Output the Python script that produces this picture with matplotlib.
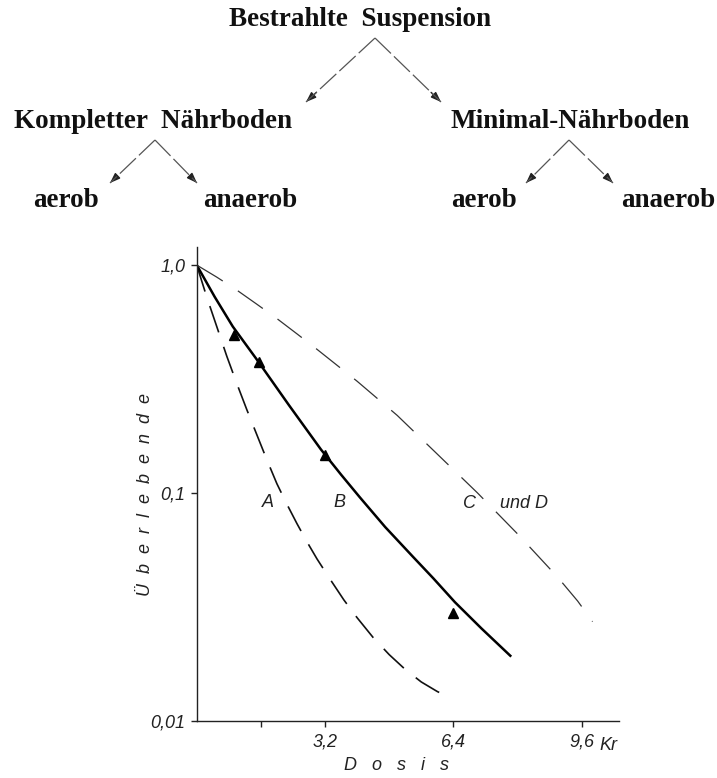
import numpy as np
import matplotlib
matplotlib.use("Agg")
import matplotlib.pyplot as plt
from matplotlib.lines import Line2D

plt.rcParams['lines.scale_dashes'] = False

dose_a = [0, 0.25, 0.5, 0.75, 1.0, 1.25, 1.5, 1.75, 2.0, 2.25, 2.5, 2.75, 3.0,
          3.33, 3.67, 4.0, 4.4, 4.8, 5.2, 5.6, 6.0, 6.33]
log_a = [0, -0.14, -0.27, -0.40, -0.52, -0.635, -0.745, -0.855, -0.96, -1.05, -1.135, -1.215, -1.29,
         -1.38, -1.47, -1.548, -1.635, -1.71, -1.775, -1.83, -1.872, -1.90]

dose_b = [0, 0.45, 0.9, 1.5, 2.3, 3.1, 3.6, 4.07, 4.7, 5.39, 5.9, 6.44, 7.1, 7.82]
log_b = [0, -0.14, -0.27, -0.415, -0.615, -0.81, -0.92, -1.02, -1.15, -1.28, -1.375, -1.48, -1.595, -1.715]

dose_b_pts = [0.93, 1.55, 3.2, 6.4]
log_b_pts = [-0.307, -0.424, -0.833, -1.528]

dose_cd = [0, 0.5, 1, 1.5, 2, 2.5, 3, 3.5, 4, 4.5, 5, 5.5, 6, 6.5, 7, 7.5, 8, 8.5, 9, 9.5, 9.87]
log_cd = [0, -0.053, -0.11, -0.172, -0.235, -0.302, -0.37, -0.44, -0.51, -0.585, -0.66, -0.745,
          -0.83, -0.915, -1.0, -1.09, -1.18, -1.275, -1.37, -1.475, -1.565]

x_ticks = [1.6, 3.2, 6.4, 9.6]
x_ticklabels = ['', '3,2', '6,4', '9,6']
y_ticks = [1.0, 0.1, 0.01]
y_ticklabels = ['1,0', '0,1', '0,01']

W, H = 717, 778
fig = plt.figure(figsize=(W / 100, H / 100), dpi=100)

def fx(px):
    return px / W

def fy(py):
    return 1 - py / H

# ---------- scheme on top ----------
serif = dict(family='Liberation Serif', weight='bold', size=19.5, color='#111')
fig.text(fx(360), fy(26), 'Bestrahlte  Suspension', ha='center', va='baseline', **serif)
fig.text(fx(153), fy(128), 'Kompletter  Nährboden', ha='center', va='baseline', **serif)
fig.text(fx(570), fy(128), 'Minimal-Nährboden', ha='center', va='baseline', **serif)
for cx, word in [(66, 'aerob'), (250, 'anaerob'), (484, 'aerob'), (668, 'anaerob')]:
    fig.text(fx(cx), fy(207), word, ha='center', va='baseline', **serif)

arrows = [((375, 38), (306, 102)), ((375, 38), (441, 102)),
          ((155, 140), (110, 183)), ((155, 140), (197, 183)),
          ((569, 140), (526, 183)), ((569, 140), (613, 183))]
for (x0, y0), (x1, y1) in arrows:
    fig.add_artist(Line2D([fx(x0), fx(x1)], [fy(y0), fy(y1)], transform=fig.transFigure,
                          color='#555', lw=0.9, dashes=(16, 3)))
    fig.add_artist(matplotlib.patches.FancyArrowPatch(
        (fx(x1 - (x1 - x0) * 0.15), fy(y1 - (y1 - y0) * 0.15)), (fx(x1), fy(y1)),
        transform=fig.transFigure, arrowstyle='-|>,head_length=6,head_width=2.2',
        color='#222', lw=1.0, shrinkA=0, shrinkB=0))

# ---------- survival curves ----------
ax = fig.add_axes([fx(196.7), fy(720.7), fx(619 - 196.7), (720.7 - 247) / H])
ax.set_yscale('log')
ax.set_xlim(0, 10.53)
ax.set_ylim(0.01, 1.2)

ax.plot(dose_a, 10 ** np.array(log_a), color='#111', lw=1.2, dashes=(20, 11))
ax.plot(dose_b, 10 ** np.array(log_b), color='#000', lw=1.8)
ax.plot(dose_b_pts, 10 ** np.array(log_b_pts), ls='none', marker='^', color='#000', ms=7)
ax.plot(dose_cd, 10 ** np.array(log_cd), color='#333', lw=0.9, dashes=(22, 13))

lab = dict(family='Liberation Sans', style='italic', size=13, color='#222')
ax.text(1.78, 0.091, 'A', ha='center', va='center', **lab)
ax.text(3.55, 0.091, 'B', ha='center', va='center', **lab)
ax.text(6.81, 0.09, 'C', ha='center', va='center', **lab)
ax.text(7.57, 0.09, 'und D', ha='left', va='center', **lab)

for side in ['top', 'right']:
    ax.spines[side].set_visible(False)
for side in ['left', 'bottom']:
    ax.spines[side].set_linewidth(1.0)
    ax.spines[side].set_color('#222')

ax.set_xticks(x_ticks)
ax.set_xticklabels(x_ticklabels)
ax.set_yticks(y_ticks)
ax.set_yticklabels(y_ticklabels)
ax.yaxis.set_minor_locator(matplotlib.ticker.NullLocator())
ax.tick_params(direction='out', length=4, width=1.0, color='#222')
ax.tick_params(axis='x', pad=5)
ax.tick_params(axis='y', pad=4)
for t in ax.get_xticklabels() + ax.get_yticklabels():
    t.set_fontfamily('Liberation Sans')
    t.set_fontstyle('italic')
    t.set_fontsize(13)
    t.set_color('#222')

ax.text(10.05, -0.035, 'Kr', transform=ax.get_xaxis_transform(), ha='left', va='top', **lab)

fig.text(fx(397), fy(765), 'D   o   s   i   s', ha='center', va='center', **lab)
fig.text(fx(145), fy(495), 'Ü  b  e  r  l  e  b  e  n  d  e', ha='center', va='center',
         rotation=90, **lab)

fig.savefig('out.png', dpi=100)
